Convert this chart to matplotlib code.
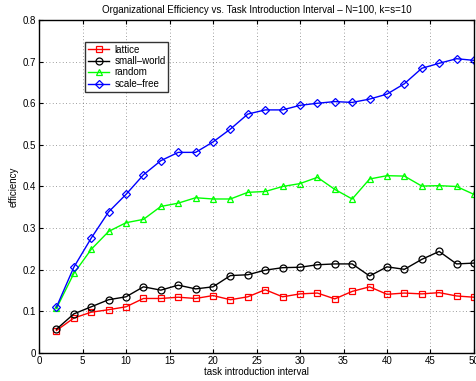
import matplotlib
matplotlib.use("Agg")
import matplotlib.pyplot as plt

x = [2, 4, 6, 8, 10, 12, 14, 16, 18, 20, 22, 24, 26, 28, 30, 32, 34, 36, 38, 40, 42, 44, 46, 48, 50]
lattice = [0.054, 0.084, 0.098, 0.104, 0.111, 0.131, 0.131, 0.134, 0.131, 0.138, 0.128, 0.135, 0.152, 0.135, 0.142, 0.144,
           0.130, 0.148, 0.159, 0.141, 0.144, 0.142, 0.145, 0.137, 0.134]
small_world = [0.057, 0.094, 0.111, 0.128, 0.135, 0.159, 0.151, 0.163, 0.154, 0.159, 0.186, 0.188, 0.199, 0.205, 0.206, 0.212,
               0.214, 0.214, 0.185, 0.207, 0.201, 0.225, 0.244, 0.214, 0.216]
random_ = [0.107, 0.191, 0.249, 0.292, 0.313, 0.321, 0.352, 0.360, 0.373, 0.370, 0.370, 0.386, 0.388, 0.400, 0.407, 0.422,
           0.393, 0.370, 0.418, 0.426, 0.425, 0.401, 0.402, 0.400, 0.381]
scale_free = [0.110, 0.206, 0.276, 0.339, 0.381, 0.428, 0.462, 0.482, 0.482, 0.507, 0.538, 0.574, 0.584, 0.584, 0.595, 0.600,
              0.604, 0.602, 0.610, 0.622, 0.647, 0.684, 0.696, 0.707, 0.703]

plt.rcParams['font.family'] = ['Liberation Sans', 'DejaVu Sans']

fig = plt.figure(figsize=(4.77, 3.81), dpi=100)
ax = fig.add_axes([0.0818, 0.0735, 0.9119, 0.874])

ax.plot(x, lattice, color='#ff0000', marker='s', mfc='none', ms=4, mew=0.9, lw=1, label='lattice')
ax.plot(x, small_world, color='black', marker='o', mfc='none', ms=5, mew=0.9, lw=1, label='small\u2013world')
ax.plot(x, random_, color='#00ff00', marker='^', mfc='none', ms=5, mew=0.9, lw=1, label='random')
ax.plot(x, scale_free, color='#0000ff', marker='D', mfc='none', ms=4, mew=0.9, lw=1, label='scale\u2013free')

ax.set_xlim(0, 50)
ax.set_ylim(0, 0.8)
ax.set_xticks(range(0, 51, 5))
ax.set_yticks([0, 0.1, 0.2, 0.3, 0.4, 0.5, 0.6, 0.7, 0.8])
ax.set_yticklabels(['0', '0.1', '0.2', '0.3', '0.4', '0.5', '0.6', '0.7', '0.8'])
ax.tick_params(direction='in', labelsize=7, length=3, top=True, right=True, pad=2)
ax.grid(True, linestyle=(0, (1, 3)), color='black', linewidth=0.6, alpha=0.5)
for s in ax.spines.values():
    s.set_linewidth(1.0)

ax.set_xlabel('task introduction interval', fontsize=7, labelpad=1)
ax.set_ylabel('efficiency', fontsize=7, labelpad=3)
ax.set_title('Organizational Efficiency vs. Task Introduction Interval \u2013 N=100, k=s=10', fontsize=7, pad=5)

leg = ax.legend(loc='upper left', bbox_to_anchor=(0.106, 0.935), fontsize=7, frameon=True, fancybox=False,
                edgecolor='black', borderpad=0.3, labelspacing=0.15, handlelength=2.2, handletextpad=0.5,
                borderaxespad=0)
leg.get_frame().set_linewidth(1.0)

fig.savefig('out.png', dpi=100)
